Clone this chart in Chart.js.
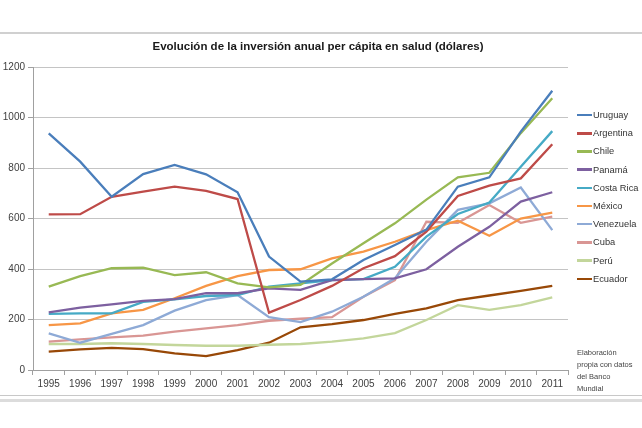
<!DOCTYPE html>
<html>
<head>
<meta charset="utf-8">
<script src="https://cdn.jsdelivr.net/npm/chart.js@4.4.1/dist/chart.umd.min.js"></script>
<style>
  html, body { margin: 0; padding: 0; background: #fff; }
  #wrap { position: relative; width: 642px; height: 428px; overflow: hidden; font-family: "Liberation Sans", Arial, sans-serif; }
  canvas { position: absolute; left: 0; top: 0; }
  #title { position: absolute; left: 0; width: 636px; top: 40px; text-align: center; font-weight: bold; font-size: 11.5px; color: #1a1a1a; }
  #legend { position: absolute; left: 577px; top: 106px; font-size: 9.3px; color: #333; }
  .item { height: 18.2px; display: flex; align-items: center; }
  .swatch { width: 15px; height: 2.5px; margin-right: 1px; }
  #note { position: absolute; left: 577px; top: 347px; font-size: 7.5px; line-height: 12px; color: #444; }
</style>
</head>
<body>
<div id="wrap">
  <canvas id="c" width="642" height="428"></canvas>
  <div id="title">Evolución de la inversión anual per cápita en salud (dólares)</div>
  <div id="legend"></div>
  <div id="note">Elaboración<br>propia con datos<br>del Banco<br>Mundial</div>
</div>
<script>
const years = ["1995","1996","1997","1998","1999","2000","2001","2002","2003","2004","2005","2006","2007","2008","2009","2010","2011"];
const yTicks = [0, 200, 400, 600, 800, 1000, 1200];

const uruguay   = [937, 825, 686, 776, 812, 775, 704, 449, 350, 359, 436, 495, 556, 726, 763, 944, 1106];
const argentina = [616, 617, 686, 706, 726, 709, 677, 227, 277, 333, 403, 451, 548, 689, 730, 759, 894];
const chile     = [330, 372, 403, 405, 376, 387, 343, 327, 337, 422, 502, 581, 675, 763, 781, 938, 1076];
const panama    = [228, 247, 260, 274, 281, 304, 304, 323, 317, 356, 360, 363, 399, 488, 567, 667, 704];
const costaRica = [222, 224, 224, 270, 280, 293, 297, 330, 343, 356, 360, 409, 528, 618, 663, 805, 946];
const mexico    = [178, 185, 224, 238, 284, 333, 372, 396, 399, 442, 469, 508, 554, 591, 532, 600, 623];
const venezuela = [145, 108, 143, 178, 235, 277, 297, 209, 190, 231, 290, 363, 508, 634, 660, 723, 554];
const cuba      = [112, 121, 129, 136, 152, 165, 178, 195, 203, 209, 290, 356, 587, 583, 653, 583, 607];
const peru      = [103, 103, 106, 103, 99, 96, 96, 100, 103, 112, 125, 146, 198, 257, 238, 257, 288];
const ecuador   = [73, 82, 88, 83, 66, 55, 79, 108, 169, 182, 198, 222, 244, 277, 295, 313, 333];

const seriesNames = ["Uruguay","Argentina","Chile","Panamá","Costa Rica","México","Venezuela","Cuba","Perú","Ecuador"];
const seriesData = [uruguay, argentina, chile, panama, costaRica, mexico, venezuela, cuba, peru, ecuador];
const seriesColors = ["#4a7ebb","#be4b48","#98b954","#7d60a0","#46aac5","#f79646","#8eaad6","#d99694","#c3d69b","#984807"];

const datasets = seriesNames.map((n, i) => ({
  label: n,
  data: seriesData[i],
  borderColor: seriesColors[i],
  backgroundColor: seriesColors[i],
  borderWidth: 2.3,
  pointRadius: 0,
  tension: 0,
  fill: false
}));

const lg = document.getElementById('legend');
seriesNames.forEach((n, i) => {
  const d = document.createElement('div');
  d.className = 'item';
  d.innerHTML = '<span class="swatch" style="background:' + seriesColors[i] + '"></span><span>' + n + '</span>';
  lg.appendChild(d);
});

const framePlugin = {
  id: 'frame',
  beforeDraw(chart) {
    const ctx = chart.ctx;
    ctx.save();
    ctx.fillStyle = '#d0d0d0';
    ctx.fillRect(0, 32, 642, 2);
    ctx.fillStyle = '#c8c8c8';
    ctx.fillRect(0, 395, 642, 1);
    ctx.fillStyle = '#dcdcdc';
    ctx.fillRect(0, 399, 642, 3);
    ctx.restore();
  }
};

new Chart(document.getElementById('c'), {
  type: 'line',
  data: { labels: years, datasets },
  plugins: [framePlugin],
  options: {
    responsive: false,
    animation: false,
    layout: { padding: { left: 0, right: 74, top: 67, bottom: 38 } },
    plugins: { legend: { display: false }, title: { display: false }, tooltip: { enabled: false } },
    scales: {
      x: {
        type: 'category',
        offset: true,
        grid: { offset: true, drawOnChartArea: false, drawTicks: true, tickLength: 5, color: '#a0a0a0' },
        border: { color: '#a0a0a0', width: 1 },
        ticks: { color: '#404040', font: { family: 'Liberation Sans', size: 10 }, maxRotation: 0, autoSkip: false, padding: 3 },
        afterFit: s => { s.height = 20; }
      },
      y: {
        min: 0, max: 1200,
        afterBuildTicks: s => { s.ticks = yTicks.map(v => ({ value: v })); },
        grid: { color: '#c4c4c4', lineWidth: 1, tickLength: 5, tickColor: '#a0a0a0' },
        border: { color: '#a0a0a0', width: 1 },
        ticks: { color: '#404040', font: { family: 'Liberation Sans', size: 10 }, padding: 3, callback: v => String(v) },
        afterFit: s => { s.width = 33; }
      }
    }
  }
});
</script>
</body>
</html>
